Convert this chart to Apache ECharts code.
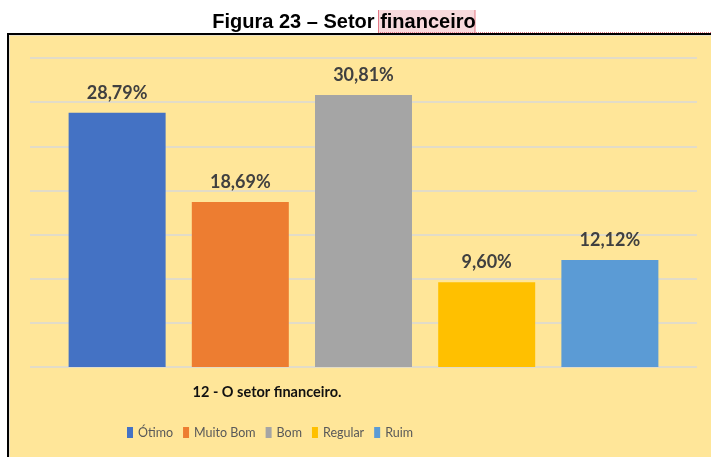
<!DOCTYPE html>
<html>
<head>
<meta charset="utf-8">
<script src="https://cdn.jsdelivr.net/npm/echarts@6/dist/echarts.min.js"></script>
<style>
  html, body { margin: 0; padding: 0; background: #ffffff; }
  #chart { width: 711px; height: 457px; }
</style>
</head>
<body>
<div id="chart"></div>
<script>
const figureTitle = 'Figura 23 – Setor ';
const figureTitleHighlight = 'financeiro';
const categories = ['12 - O setor financeiro.'];
const seriesNames = ['Ótimo', 'Muito Bom', 'Bom', 'Regular', 'Ruim'];
const values = [28.79, 18.69, 30.81, 9.60, 12.12];
const colors = ['#4472C4', '#ED7D31', '#A5A5A5', '#FFC000', '#5B9BD5'];
const yMin = 0, yMax = 35, yInterval = 5;

const chart = echarts.init(document.getElementById('chart'), null, { renderer: 'canvas' });

const fmt = v => v.toFixed(2).replace('.', ',') + '%';

const series = seriesNames.map((name, i) => ({
  name: name,
  type: 'bar',
  data: [values[i]],
  barWidth: 97,
  barGap: '27%',
  itemStyle: { color: colors[i] },
  label: {
    show: true,
    position: 'top',
    distance: 11,
    formatter: p => fmt(p.value),
    color: '#404040',
    fontFamily: 'Lato',
    fontWeight: 'bold',
    fontSize: 18
  }
}));

chart.setOption({
  animation: false,
  backgroundColor: '#ffffff',
  graphic: [
    { type: 'rect', z: -10, silent: true,
      shape: { x: 9.5, y: 35.5, width: 720, height: 440 },
      style: { fill: '#FFE699', stroke: '#E8E0C8', lineWidth: 1 } },
    { type: 'line', z: 10, silent: true,
      shape: { x1: 8, y1: 34, x2: 711, y2: 34 },
      style: { stroke: '#000000', lineWidth: 2 } },
    { type: 'line', z: 10, silent: true,
      shape: { x1: 8, y1: 33, x2: 8, y2: 457 },
      style: { stroke: '#000000', lineWidth: 2 } },
    { type: 'rect', z: 1, silent: true,
      shape: { x: 378.5, y: 10, width: 96.5, height: 23 },
      style: { fill: '#F8D9DC' } },
    { type: 'line', z: 2, silent: true,
      shape: { x1: 378.5, y1: 10, x2: 378.5, y2: 33 },
      style: { stroke: '#E57A86', lineWidth: 1 } },
    { type: 'line', z: 2, silent: true,
      shape: { x1: 475, y1: 10, x2: 475, y2: 33 },
      style: { stroke: '#E57A86', lineWidth: 1 } },
    { type: 'line', z: 2, silent: true,
      shape: { x1: 378, y1: 32.5, x2: 711, y2: 32.5 },
      style: { stroke: '#E57A86', lineWidth: 1, lineDash: [1, 1] } },
    { type: 'text', z: 5, silent: true,
      style: {
        x: 344, y: 32.5,
        text: figureTitle + figureTitleHighlight,
        fill: '#000000',
        font: 'bold 20px "Liberation Sans", Arial, sans-serif',
        textAlign: 'center',
        textVerticalAlign: 'bottom'
      } }
  ],
  title: {
    text: categories[0],
    left: 267,
    textAlign: 'center',
    top: 385,
    padding: 0,
    textStyle: {
      color: '#111111',
      fontFamily: 'Lato',
      fontWeight: 'bold',
      fontSize: 14.5
    }
  },
  legend: {
    data: seriesNames,
    left: 127,
    top: 426,
    padding: 0,
    itemWidth: 6,
    itemHeight: 11,
    itemGap: 10,
    icon: 'rect',
    textStyle: { color: '#595959', fontFamily: 'Lato', fontSize: 12.5 }
  },
  grid: { left: 30, right: 14, top: 58, bottom: 90 },
  xAxis: {
    type: 'category',
    data: categories,
    axisLine: { show: false },
    axisTick: { show: false },
    axisLabel: { show: false }
  },
  yAxis: {
    type: 'value',
    min: yMin,
    max: yMax,
    interval: yInterval,
    axisLine: { show: false },
    axisTick: { show: false },
    axisLabel: { show: false },
    splitLine: { show: true, lineStyle: { color: '#D9D9D9', width: 1.5 } }
  },
  series: series
});
</script>
</body>
</html>
